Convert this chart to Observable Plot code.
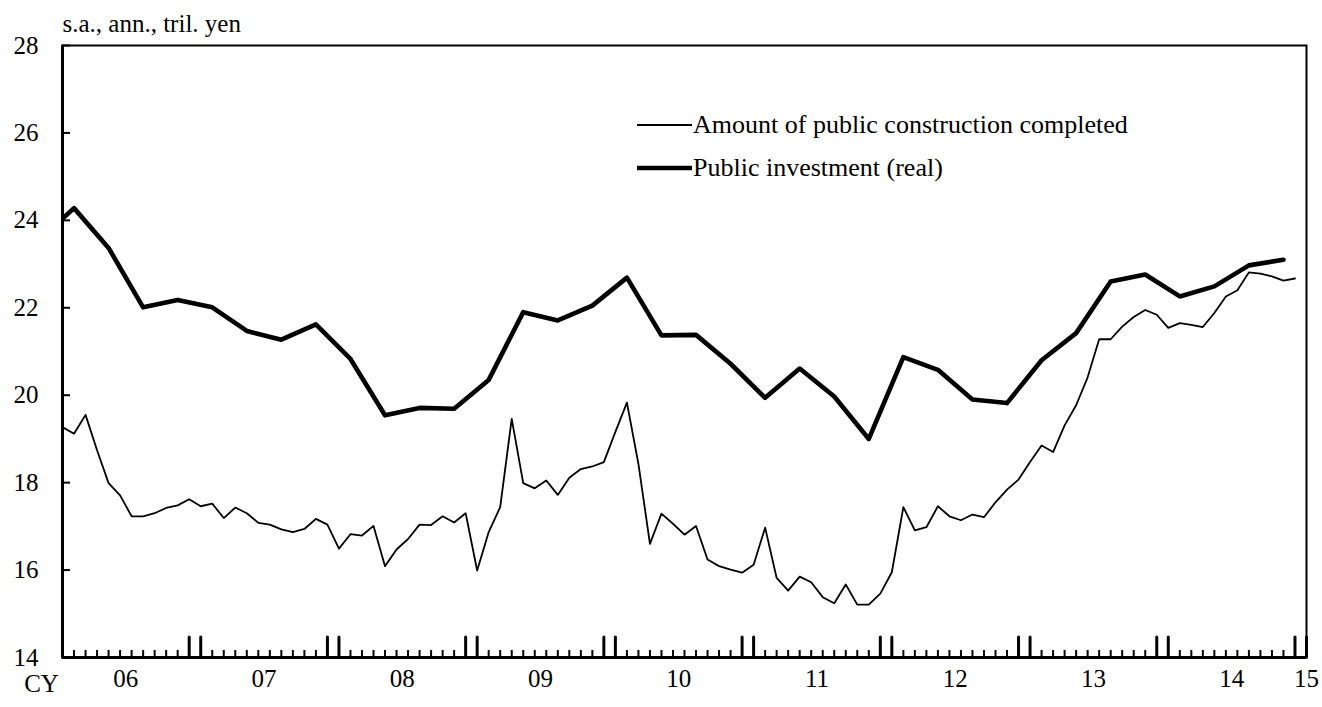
<!DOCTYPE html>
<html><head><meta charset="utf-8">
<script src="https://cdn.jsdelivr.net/npm/d3@7"></script>
<script src="https://cdn.jsdelivr.net/npm/@observablehq/plot@0.6"></script>
<style>
html,body{margin:0;padding:0;background:#fff;}
#chart{position:relative;width:1322px;height:707px;}
#chart svg{font-family:"Liberation Serif","Times New Roman",serif;}
</style>
</head><body><div id="chart"></div>
<script>
// ---- categories ----
const months = [];
for (let y = 2006; y <= 2014; y++) for (let m = 1; m <= 12; m++) months.push(`${y}-${String(m).padStart(2, "0")}`);
const quarters = ["2005Q4"];
for (let y = 2006; y <= 2014; y++) for (let q = 1; q <= 4; q++) quarters.push(`${y}Q${q}`);

// ---- series values (trillion yen, s.a., annualized) ----
const constructionCompleted = [
  19.27, 19.12, 19.55, 18.74, 17.99, 17.71, 17.23, 17.23, 17.30, 17.42, 17.48, 17.62,
  17.46, 17.52, 17.19, 17.43, 17.30, 17.08, 17.04, 16.93, 16.87, 16.94, 17.17, 17.04,
  16.49, 16.82, 16.79, 17.01, 16.09, 16.47, 16.71, 17.04, 17.03, 17.23, 17.09, 17.30,
  15.99, 16.87, 17.44, 19.46, 17.99, 17.87, 18.05, 17.72, 18.11, 18.31, 18.37, 18.47,
  19.16, 19.83, 18.43, 16.60, 17.29, 17.06, 16.81, 17.01, 16.24, 16.09, 16.01, 15.94,
  16.12, 16.97, 15.82, 15.53, 15.85, 15.72, 15.38, 15.24, 15.67, 15.21, 15.21, 15.46,
  15.95, 17.44, 16.91, 16.98, 17.46, 17.23, 17.14, 17.27, 17.21, 17.55, 17.84, 18.07,
  18.47, 18.85, 18.70, 19.31, 19.77, 20.41, 21.28, 21.28, 21.57, 21.79, 21.95, 21.84,
  21.54, 21.65, 21.61, 21.56, 21.88, 22.26, 22.40, 22.81, 22.78, 22.72, 22.62, 22.67
];
const publicInvestment = [
  23.55,
  24.28, 23.37, 22.01, 22.18,
  22.01, 21.47, 21.27, 21.62,
  20.83, 19.54, 19.71, 19.69,
  20.35, 21.90, 21.71, 22.05,
  22.69, 21.37, 21.38, 20.72,
  19.94, 20.61, 19.97, 19.00,
  20.87, 20.58, 19.90, 19.82,
  20.80, 21.42, 22.60, 22.76,
  22.26, 22.49, 22.97, 23.10
];

// ---- tick labels / texts ----
const yTicks = [14, 16, 18, 20, 22, 24, 26, 28];
const xTickLabels = ["06", "07", "08", "09", "10", "11", "12", "13", "14", "15"];
const seriesNames = ["Amount of public construction completed", "Public investment (real)"];
const unitLabel = "s.a., ann., tril. yen";
const axisPrefix = "CY";

// ---- helpers (month index from Jan 2006) ----
const monthIndex = s => { const [y, m] = s.split("-").map(Number); return (y - 2006) * 12 + (m - 1); };
const quarterIndex = s => { const y = +s.slice(0, 4), q = +s.slice(5); return (y - 2006) * 12 + (q - 1) * 3 + 1; };

const monthly = months.map((m, i) => ({i: monthIndex(m), v: constructionCompleted[i]}));
const quarterly = quarters.map((q, i) => ({i: quarterIndex(q), v: publicInvestment[i]}));

const nMonths = months.length; // 108
const allIdx = d3.range(0, nMonths + 1);
const tallTicks = allIdx.filter(i => i % 12 === 0 || i % 12 === 11);
const smallTicks = allIdx.filter(i => !(i % 12 === 0 || i % 12 === 11));
const labelPos = xTickLabels.map((_, k) => k < xTickLabels.length - 1 ? k * 12 + 5.5 : nMonths);

const FS = 25;
const chart = Plot.plot({
  width: 1322,
  height: 707,
  marginLeft: 62,
  marginRight: 16,
  marginTop: 45,
  marginBottom: 50,
  style: {fontFamily: "Liberation Serif, Times New Roman, serif", fontSize: FS + "px", color: "#000", background: "#fff"},
  x: {type: "linear", domain: [0, nMonths]},
  y: {domain: [14, 28]},
  marks: [
    Plot.line(monthly, {x: "i", y: "v", stroke: "#000", strokeWidth: 1.8, clip: true}),
    Plot.line(quarterly, {x: "i", y: "v", stroke: "#000", strokeWidth: 4.6, clip: true}),
    Plot.frame({stroke: "#000", strokeWidth: 2}),
    Plot.ruleX([0], {stroke: "#000", strokeWidth: 3}),
    Plot.ruleY([14], {stroke: "#000", strokeWidth: 3}),
    Plot.axisY({ticks: yTicks, tickSize: 0, tickPadding: 24, label: null, fontSize: FS, tickFormat: d => String(d)}),
    Plot.axisY({ticks: yTicks, tickSize: -8, fill: "none", strokeWidth: 2, label: null}),
    Plot.axisX({ticks: smallTicks, tickSize: -7, fill: "none", strokeWidth: 2, label: null}),
    Plot.axisX({ticks: tallTicks, tickSize: -20, fill: "none", strokeWidth: 3, strokeLinecap: "round", label: null}),
    Plot.axisX({ticks: labelPos, tickSize: 0, tickPadding: 12, label: null, fontSize: FS,
                tickFormat: d => xTickLabels[labelPos.indexOf(d)]}),
    Plot.text([axisPrefix], {frameAnchor: "bottom-left", dx: -21, dy: 26, text: d => d, fontSize: FS, lineAnchor: "middle", textAnchor: "middle"}),
    Plot.text([unitLabel], {frameAnchor: "top-left", dy: -22, text: d => d, fontSize: 25, lineAnchor: "middle", textAnchor: "start"})
  ]
});
document.getElementById("chart").appendChild(chart);

// ---- legend (inside the plot frame) ----
const svg = d3.select(chart);
const lg = svg.append("g")
  .attr("font-family", "Liberation Serif, Times New Roman, serif")
  .attr("font-size", 26)
  .attr("text-anchor", "start");
const legendItems = [{name: seriesNames[0], w: 1.8, y: 125}, {name: seriesNames[1], w: 4.6, y: 168}];
legendItems.forEach(it => {
  lg.append("line").attr("x1", 637).attr("x2", 692).attr("y1", it.y).attr("y2", it.y)
    .attr("stroke", "#000").attr("stroke-width", it.w);
  lg.append("text").attr("x", 693).attr("y", it.y).attr("dy", "0.32em")
    .attr("text-anchor", "start").attr("fill", "#000").text(it.name);
});
</script>
</body></html>
